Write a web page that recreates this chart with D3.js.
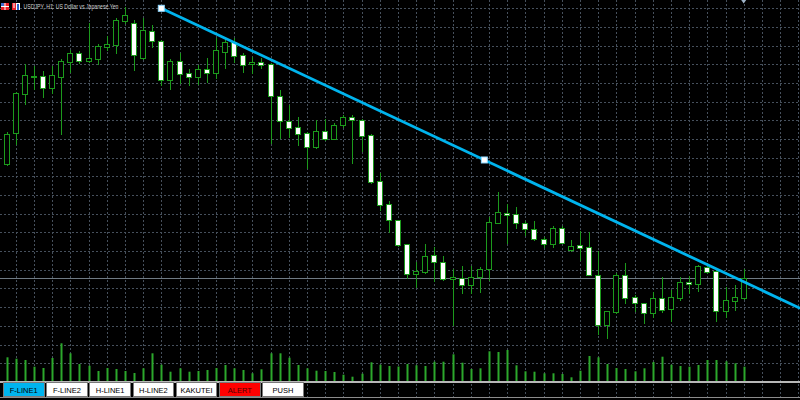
<!DOCTYPE html>
<html>
<head>
<meta charset="utf-8">
<script src="https://cdn.jsdelivr.net/npm/d3@7"></script>
<style>
  html, body { margin: 0; padding: 0; background: #000; }
  svg { display: block; }
</style>
</head>
<body>
<div id="chart"></div>
<script>
// USDJPY H1 bars, index -1 is the one cut off at the left edge
var bars = d3.range(-1, 82);

var opens = [109.090,
  109.668, 109.831, 110.041, 110.140, 110.136, 110.072, 110.134, 110.214, 110.262, 110.220,
  110.229, 110.294, 110.304, 110.430, 110.423, 110.232, 110.380, 110.325, 110.116, 110.218,
  110.152, 110.131, 110.173, 110.155, 110.268, 110.321, 110.250, 110.200, 110.214, 110.200,
  110.031, 109.898, 109.863, 109.831, 109.756, 109.842, 109.802, 109.874, 109.918, 109.902,
  109.820, 109.574, 109.451, 109.367, 109.237, 109.076, 109.090, 109.178, 109.143, 109.049,
  109.058, 109.019, 109.060, 109.103, 109.352, 109.403, 109.397, 109.352, 109.320, 109.267,
  109.238, 109.324, 109.208, 109.233, 109.221, 109.074, 108.803, 108.873, 109.071, 108.956,
  108.921, 108.867, 108.949, 108.889, 108.948, 109.033, 109.022, 109.117, 109.094, 108.880,
  108.935, 108.948];

var highs = [109.673,
  109.836, 110.054, 110.202, 110.191, 110.166, 110.191, 110.227, 110.277, 110.273, 110.420,
  110.307, 110.352, 110.446, 110.505, 110.437, 110.446, 110.411, 110.330, 110.227, 110.259,
  110.173, 110.196, 110.232, 110.339, 110.334, 110.339, 110.259, 110.238, 110.232, 110.205,
  110.063, 109.982, 109.920, 109.839, 109.902, 109.907, 109.884, 109.929, 109.929, 109.907,
  109.825, 109.617, 109.468, 109.369, 109.238, 109.143, 109.237, 109.224, 109.176, 109.103,
  109.120, 109.120, 109.114, 109.381, 109.518, 109.452, 109.435, 109.361, 109.361, 109.277,
  109.335, 109.335, 109.260, 109.309, 109.304, 109.202, 108.882, 109.081, 109.138, 108.965,
  108.924, 108.983, 109.063, 108.992, 109.063, 109.067, 109.126, 109.135, 109.103, 109.010,
  109.019, 109.103];

var lows = [109.086,
  109.663, 109.772, 109.988, 110.066, 110.027, 110.045, 109.827, 110.161, 110.206, 110.214,
  110.202, 110.277, 110.262, 110.420, 110.170, 110.227, 110.291, 110.089, 110.066, 110.102,
  110.089, 110.095, 110.107, 110.125, 110.179, 110.214, 110.161, 110.152, 110.179, 109.777,
  109.807, 109.813, 109.768, 109.647, 109.754, 109.795, 109.800, 109.866, 109.673, 109.736,
  109.566, 109.420, 109.304, 109.229, 109.055, 109.010, 109.081, 109.040, 109.046, 108.805,
  108.978, 108.978, 108.983, 109.046, 109.348, 109.245, 109.326, 109.286, 109.260, 109.224,
  109.224, 109.242, 109.199, 109.153, 109.072, 108.756, 108.733, 108.870, 108.924, 108.880,
  108.814, 108.846, 108.876, 108.828, 108.938, 108.974, 108.987, 109.081, 108.828, 108.849,
  108.885, 108.945];

var closes = [109.670,
  109.825, 110.045, 110.143, 110.135, 110.072, 110.143, 110.218, 110.262, 110.220, 110.236,
  110.300, 110.309, 110.437, 110.464, 110.250, 110.384, 110.327, 110.116, 110.220, 110.147,
  110.131, 110.173, 110.155, 110.277, 110.321, 110.246, 110.196, 110.214, 110.196, 110.031,
  109.897, 109.861, 109.829, 109.756, 109.842, 109.799, 109.875, 109.918, 109.900, 109.816,
  109.570, 109.449, 109.365, 109.233, 109.076, 109.094, 109.176, 109.143, 109.051, 109.060,
  109.020, 109.063, 109.103, 109.354, 109.408, 109.392, 109.349, 109.318, 109.263, 109.238,
  109.324, 109.245, 109.226, 109.217, 109.074, 108.806, 108.880, 109.071, 108.951, 108.921,
  108.867, 108.948, 108.885, 108.953, 109.033, 109.022, 109.120, 109.090, 108.880, 108.938,
  108.953, 109.058];

// tick volumes
var volumes = [2600,
  2440, 2300, 2170, 1500, 1370, 2370, 3840, 2840, 1770, 1600,
  1070, 1370, 1270, 1070, 870, 1340, 2840, 1700, 1000, 1340,
  1000, 1070, 1170, 1370, 1670, 1340, 1170, 840, 1240, 2840,
  2840, 2400, 1670, 1340, 1100, 1070, 970, 700, 500, 800,
  1940, 1700, 1570, 1520, 1770, 1640, 1570, 2000, 2000, 2740,
  1900, 1270, 1340, 3040, 2970, 3170, 1640, 1040, 1000, 840,
  840, 770, 440, 1100, 2570, 2440, 1770, 1370, 1270, 1040,
  1340, 1970, 2500, 1700, 1570, 1500, 1670, 2170, 2170, 2040,
  1840, 1500];

// trend line anchors (bar index, price)
var trendBars = [17, 52.5];
var trendPrices = [110.500, 109.688];

var chartTitle = "USDJPY, H1:  US Dollar vs Japanese Yen";
var buttonLabels = ["F-LINE1", "F-LINE2", "H-LINE1", "H-LINE2", "KAKUTEI", "ALERT", "PUSH"];
var activeButton = "F-LINE1";
var alertButton = "ALERT";

var gridTop = 110.5, gridStep = 0.1, gridCount = 21;

function drawChart() {
    var svgWidth = 800;
    var svgHeight = 400;

    var svg = d3.select("#chart")
        .append("svg")
        .attr("width", svgWidth)
        .attr("height", svgHeight);

    svg.append("rect")
        .attr("width", svgWidth)
        .attr("height", svgHeight)
        .attr("fill", "#000");

    // scales
    var x = d3.scaleLinear().domain([0, 81]).range([6.6, 743.7]);
    var y = d3.scaleLinear().domain([110.5, 108.6]).range([8.3, 363.22]);
    var yVol = d3.scaleLinear().domain([0, 4000]).range([381.7, 341.7]);

    function px(v) { return Math.round(v) + 0.5; }

    // dotted grid
    var grid = svg.append("g")
        .attr("stroke", "#46505c")
        .attr("stroke-width", 1)
        .attr("stroke-dasharray", "2,2")
        .attr("shape-rendering", "crispEdges");

    grid.selectAll(".hgrid")
        .data(d3.range(gridCount).map(k => gridTop - k * gridStep))
        .enter()
        .append("line")
        .attr("x1", 0)
        .attr("x2", svgWidth)
        .attr("y1", d => px(y(d)))
        .attr("y2", d => px(y(d)));

    grid.selectAll(".vgrid")
        .data(d3.range(1, 88, 2))
        .enter()
        .append("line")
        .attr("y1", 0)
        .attr("y2", svgHeight)
        .attr("x1", d => px(x(d)))
        .attr("x2", d => px(x(d)));

    // volumes
    svg.append("g")
        .selectAll("rect")
        .data(bars)
        .enter()
        .append("rect")
        .attr("x", (d, i) => Math.round(x(d)) - 0.5)
        .attr("width", 2)
        .attr("y", (d, i) => yVol(volumes[i]))
        .attr("height", (d, i) => yVol(0) - yVol(volumes[i]))
        .attr("fill", "#2ca82c");

    // bid line at last close
    var lastClose = closes[closes.length - 1];
    svg.append("line")
        .attr("x1", 0)
        .attr("x2", svgWidth)
        .attr("y1", px(y(lastClose)))
        .attr("y2", px(y(lastClose)))
        .attr("stroke", "#6f7a84")
        .attr("stroke-width", 1)
        .attr("shape-rendering", "crispEdges");

    // candles
    var candles = svg.append("g")
        .attr("shape-rendering", "crispEdges");

    candles.selectAll(".wick")
        .data(bars)
        .enter()
        .append("line")
        .attr("x1", d => Math.round(x(d)) + 0.5)
        .attr("x2", d => Math.round(x(d)) + 0.5)
        .attr("y1", (d, i) => Math.round(y(highs[i])))
        .attr("y2", (d, i) => Math.round(y(lows[i])) + 1)
        .attr("stroke", "#1c9a1c")
        .attr("stroke-width", 1);

    candles.selectAll(".body")
        .data(bars)
        .enter()
        .append("rect")
        .attr("x", d => Math.round(x(d)) - 2.5)
        .attr("width", 5)
        .attr("y", (d, i) => px(y(Math.max(opens[i], closes[i]))))
        .attr("height", (d, i) => Math.max(1, Math.round(y(Math.min(opens[i], closes[i]))) - Math.round(y(Math.max(opens[i], closes[i])))))
        .attr("fill", (d, i) => closes[i] > opens[i] ? "#000" : "#fff")
        .attr("stroke", "#1c9a1c")
        .attr("stroke-width", 1);

    // trend line, extended as a ray to the right edge
    var x1 = x(trendBars[0]), y1 = y(trendPrices[0]);
    var x2 = x(trendBars[1]), y2 = y(trendPrices[1]);
    var slope = (y2 - y1) / (x2 - x1);
    svg.append("line")
        .attr("x1", x1)
        .attr("y1", y1)
        .attr("x2", svgWidth)
        .attr("y2", y1 + slope * (svgWidth - x1))
        .attr("stroke", "#00b4ee")
        .attr("stroke-width", 2.8);

    svg.selectAll(".anchor")
        .data(trendBars)
        .enter()
        .append("rect")
        .attr("x", (d, i) => x(d) - 3)
        .attr("y", (d, i) => y(trendPrices[i]) - 3)
        .attr("width", 6)
        .attr("height", 6)
        .attr("fill", "#fff")
        .attr("stroke", "#8fd8ff")
        .attr("stroke-width", 1);

    // chart shift marker at the top
    var shiftX = x(81);
    svg.append("path")
        .attr("d", `M${shiftX - 2.5},0 L${shiftX + 2.5},0 L${shiftX},3.5 Z`)
        .attr("fill", "#9fb4c8");

    // title with the two small icons
    var icon1 = svg.append("g").attr("transform", "translate(1,3)");
    icon1.append("rect").attr("width", 8).attr("height", 7).attr("fill", "#e8202a");
    icon1.append("rect").attr("x", 3.5).attr("width", 1).attr("height", 7).attr("fill", "#fff");
    icon1.append("rect").attr("y", 3).attr("width", 8).attr("height", 1).attr("fill", "#fff");
    icon1.append("rect").attr("x", 0).attr("y", 0).attr("width", 3).attr("height", 3).attr("fill", "#3b6fd0");

    var icon2 = svg.append("g").attr("transform", "translate(12,3)");
    icon2.append("rect").attr("width", 8).attr("height", 7).attr("fill", "#fff");
    icon2.append("rect").attr("width", 4).attr("height", 7).attr("fill", "#e8202a");
    icon2.append("rect").attr("x", 1.5).attr("width", 1).attr("height", 5).attr("fill", "#fff");
    icon2.append("rect").attr("x", 5).attr("y", 1).attr("width", 2).attr("height", 6).attr("fill", "#2a64c8");

    svg.append("text")
        .attr("x", 23.5)
        .attr("y", 9.2)
        .attr("font-family", "'Liberation Sans', Arial, sans-serif")
        .attr("font-size", 7.4)
        .attr("fill", "#cfcfcf")
        .attr("textLength", 95)
        .attr("lengthAdjust", "spacingAndGlyphs")
        .text(chartTitle);

    // lines framing the button strip
    svg.append("line")
        .attr("x1", 0).attr("x2", svgWidth)
        .attr("y1", 381.5).attr("y2", 381.5)
        .attr("stroke", "#b8b8b8").attr("stroke-width", 2)
        .attr("shape-rendering", "crispEdges");
    svg.append("line")
        .attr("x1", 0).attr("x2", svgWidth)
        .attr("y1", 397.5).attr("y2", 397.5)
        .attr("stroke", "#8c8c8c").attr("stroke-width", 1.5)
        .attr("shape-rendering", "crispEdges");

    // buttons
    var buttons = svg.append("g")
        .selectAll("g")
        .data(buttonLabels)
        .enter()
        .append("g")
        .attr("transform", (d, i) => `translate(${3.5 + i * 43.2}, 382.5)`);

    buttons.append("rect")
        .attr("width", 40.5)
        .attr("height", 13.5)
        .attr("fill", d => d === activeButton ? "#00b4ee" : (d === alertButton ? "#ff0000" : "#fff"))
        .attr("stroke", "#7a7a7a")
        .attr("stroke-width", 1)
        .attr("shape-rendering", "crispEdges");

    buttons.append("text")
        .attr("x", 20.25)
        .attr("y", 10)
        .attr("text-anchor", "middle")
        .attr("font-family", "'Liberation Sans', Arial, sans-serif")
        .attr("font-size", 7.5)
        .attr("fill", d => d === alertButton ? "#4a0000" : "#000")
        .text(d => d);
}

drawChart();
</script>
</body>
</html>
